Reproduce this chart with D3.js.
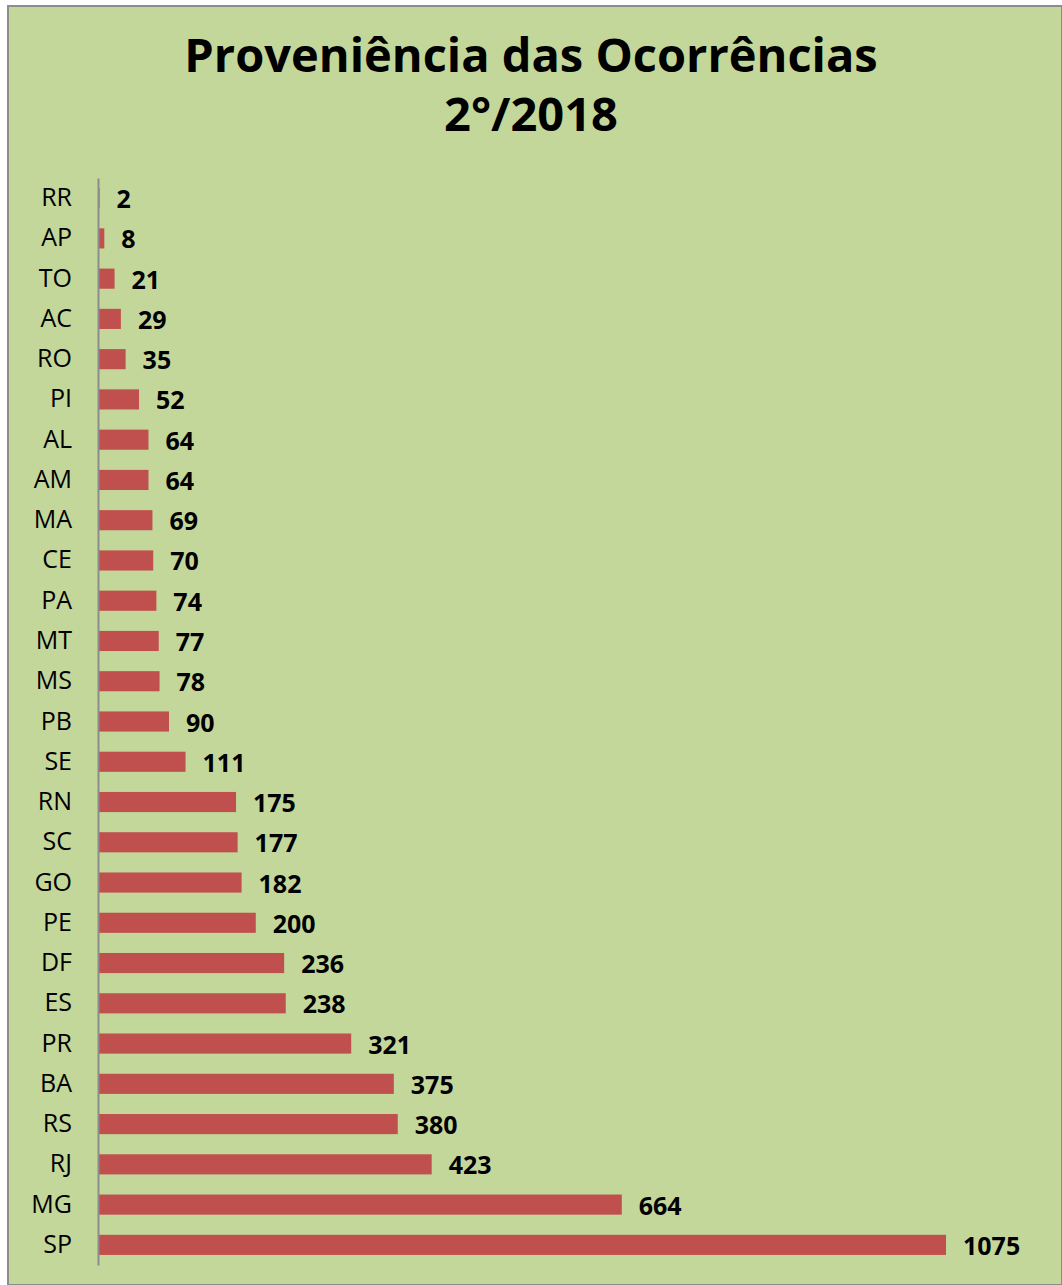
<!DOCTYPE html>
<html>
<head>
<meta charset="utf-8">
<script src="https://cdn.jsdelivr.net/npm/d3@7"></script>
<style>
  body { margin: 0; background: #fff; }
</style>
</head>
<body>
<div id="chart"></div>
<script>
const states = ["RR","AP","TO","AC","RO","PI","AL","AM","MA","CE","PA","MT","MS","PB","SE","RN","SC","GO","PE","DF","ES","PR","BA","RS","RJ","MG","SP"];
const counts = [2,8,21,29,35,52,64,64,69,70,74,77,78,90,111,175,177,182,200,236,238,321,375,380,423,664,1075];
const titleLines = ["Proveniência das Ocorrências", "2°/2018"];

const width = 1062, height = 1285;
const data = states.map((s, i) => ({ state: s, value: counts[i] }));

const svg = d3.select("#chart").append("svg")
  .attr("width", width)
  .attr("height", height);

svg.append("rect")
  .attr("x", 8).attr("y", 6)
  .attr("width", width - 8).attr("height", height - 6)
  .attr("fill", "#c4d79b")
  .attr("stroke", "#8c8c8c")
  .attr("stroke-width", 2);

svg.append("text")
  .attr("text-anchor", "middle")
  .attr("font-family", "'Open Sans', sans-serif")
  .attr("font-weight", "bold")
  .attr("font-size", 47)
  .attr("fill", "#000")
  .selectAll("tspan")
  .data(titleLines)
  .join("tspan")
  .attr("x", 531)
  .attr("y", (d, i) => 72 + i * 59)
  .text(d => d);

const x = d3.scaleLinear().domain([0, 1075]).range([98, 946]);
const y = d3.scaleBand().domain(states).range([178, 1265])
  .paddingInner(0.5).paddingOuter(0.25);

svg.selectAll("rect.bar")
  .data(data)
  .join("rect")
  .attr("class", "bar")
  .attr("x", x(0))
  .attr("y", d => y(d.state))
  .attr("width", d => x(d.value) - x(0))
  .attr("height", y.bandwidth())
  .attr("fill", "#c0504d");

const yAxis = svg.append("g")
  .attr("transform", `translate(${x(0)},0)`)
  .call(d3.axisLeft(y).tickSize(0).tickPadding(26));
yAxis.select(".domain").attr("stroke", "#8c8c8c").attr("stroke-width", 2);
yAxis.selectAll("text")
  .attr("font-family", "'Open Sans', sans-serif")
  .attr("font-size", 25)
  .attr("fill", "#000");

svg.selectAll("text.val")
  .data(data)
  .join("text")
  .attr("class", "val")
  .attr("x", d => x(d.value) + 17)
  .attr("y", d => y(d.state) + y.bandwidth() / 2)
  .attr("dy", "0.4em")
  .attr("font-family", "'Open Sans', sans-serif")
  .attr("font-weight", "bold")
  .attr("font-size", 25)
  .attr("fill", "#000")
  .text(d => d.value);
</script>
</body>
</html>
